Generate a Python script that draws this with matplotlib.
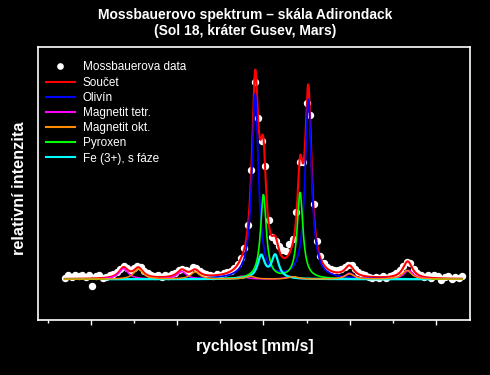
import numpy as np
import matplotlib
matplotlib.use('Agg')
import matplotlib.pyplot as plt
from matplotlib.ticker import MultipleLocator
from matplotlib.lines import Line2D

plt.rcParams['font.family'] = ['Liberation Sans', 'DejaVu Sans']

# -------------------------------------------------------------------
# Data: measured spectrum (velocity channels, 0.2 mm/s step)
# -------------------------------------------------------------------
velocity = np.round(np.arange(-11.5, 11.5001, 0.2), 2)
intensity = [
    0.004, 0.018, 0.012, 0.022, 0.015, 0.020, 0.010, 0.018, -0.034, 0.016,
    0.022, 0.006, 0.012, 0.020, 0.024, 0.034, 0.050, 0.062, 0.054, 0.046,
    0.052, 0.064, 0.056, 0.040, 0.028, 0.022, 0.016, 0.020, 0.012, 0.018,
    0.014, 0.024, 0.030, 0.042, 0.050, 0.046, 0.040, 0.060, 0.052, 0.040,
    0.030, 0.024, 0.020, 0.014, 0.024, 0.020, 0.030, 0.034, 0.040, 0.055,
    0.072, 0.100, 0.150, 0.260, 0.520, 0.940, 0.770, 0.660, 0.540, 0.280,
    0.200, 0.180, 0.160, 0.140, 0.135, 0.170, 0.190, 0.320, 0.560, 0.560,
    0.840, 0.780, 0.360, 0.180, 0.110, 0.075, 0.060, 0.050, 0.042, 0.045,
    0.048, 0.058, 0.070, 0.066, 0.048, 0.034, 0.024, 0.018, 0.010, 0.004,
    0.012, 0.006, 0.014, 0.008, 0.016, 0.022, 0.030, 0.042, 0.064, 0.084,
    0.078, 0.050, 0.030, 0.020, 0.012, 0.018, 0.008, 0.020, 0.014, -0.004,
    0.010, 0.016, 0.000, 0.012, 0.006, 0.014,
]

# Fitted Lorentzian lines (position mm/s, amplitude, half width)
olivine_pos = [-0.48, 2.60]
olivine_amp = [0.878, 0.853]
olivine_hw = 0.225

pyroxene_pos = [0.00, 2.12]
pyroxene_amp = [0.40, 0.41]
pyroxene_hw = 0.20

fe3_pos = [-0.13, 0.68]
fe3_amp = [0.108, 0.110]
fe3_hw = 0.25
fe3_range = (-9.1, 9.65)   # the Fe3+ curve is only drawn over this span

mag_tetr_pos = [-8.10, -4.73, -1.25, 1.55, 4.98, 8.40]
mag_tetr_amp = [0.050, 0.036, 0.014, 0.012, 0.028, 0.042]
mag_okt_pos = [-7.24, -3.95, -0.77, 1.74, 4.98, 8.30]
mag_okt_amp = [0.048, 0.034, 0.014, 0.012, 0.025, 0.042]
mag_hw = 0.32


def lorentz_sum(x, positions, amplitudes, hw):
    y = np.zeros_like(x)
    for p, a in zip(positions, amplitudes):
        y += a / (1 + ((x - p) / hw) ** 2)
    return y


v = np.linspace(-11.5, 11.5, 1200)
olivine = lorentz_sum(v, olivine_pos, olivine_amp, olivine_hw)
pyroxene = lorentz_sum(v, pyroxene_pos, pyroxene_amp, pyroxene_hw)
fe3 = lorentz_sum(v, fe3_pos, fe3_amp, fe3_hw)
mag_tetr = lorentz_sum(v, mag_tetr_pos, mag_tetr_amp, mag_hw)
mag_okt = lorentz_sum(v, mag_okt_pos, mag_okt_amp, mag_hw)
total = olivine + pyroxene + fe3 + mag_tetr + mag_okt
fe3_mask = (v >= fe3_range[0]) & (v <= fe3_range[1])

# -------------------------------------------------------------------
# Figure
# -------------------------------------------------------------------
fig = plt.figure(figsize=(4.9, 3.75), dpi=100, facecolor='black')
ax = fig.add_axes([0.0776, 0.1467, 0.882, 0.728], facecolor='black')

ax.plot(velocity, intensity, 'o', color='white', markersize=4.3, zorder=2)
ax.plot(v, total, color='#ff0000', lw=1.5, zorder=3)
ax.plot(v, olivine, color='#0000ff', lw=1.3, zorder=4)
ax.plot(v, mag_tetr, color='#ff00ff', lw=1.1, zorder=5)
ax.plot(v, pyroxene, color='#00ff00', lw=1.2, zorder=6)
ax.plot(v[fe3_mask], fe3[fe3_mask], color='#00ffff', lw=1.6, zorder=7)
ax.plot(v, mag_okt, color='#ff8c00', lw=1.0, zorder=8)

ax.set_xlim(-13.05, 11.97)
ax.set_ylim(-0.194, 1.106)
ax.xaxis.set_major_locator(MultipleLocator(5))
ax.xaxis.set_minor_locator(MultipleLocator(2.5))
ax.tick_params(axis='x', which='major', direction='out', length=3.6, width=1,
               colors='white', labelbottom=False)
ax.tick_params(axis='x', which='minor', direction='out', length=1.8, width=1,
               colors='white')
ax.tick_params(axis='y', which='both', left=False, labelleft=False)
for s in ax.spines.values():
    s.set_color('white')
    s.set_linewidth(1.2)

handles = [
    Line2D([], [], ls='none', marker='o', color='white', markersize=3.8),
    Line2D([], [], color='#ff0000', lw=1.5),
    Line2D([], [], color='#0000ff', lw=1.5),
    Line2D([], [], color='#ff00ff', lw=1.5),
    Line2D([], [], color='#ff8c00', lw=1.5),
    Line2D([], [], color='#00ff00', lw=1.5),
    Line2D([], [], color='#00ffff', lw=1.5),
]
labels = ['Mossbauerova data', 'Součet', 'Olivín', 'Magnetit tetr.',
          'Magnetit okt.', 'Pyroxen', 'Fe (3+), s fáze']
leg = ax.legend(handles, labels, loc='upper left', bbox_to_anchor=(0.0185, 0.947),
                frameon=False, fontsize=8.5, handlelength=2.45, handletextpad=0.68,
                labelspacing=0.27, borderpad=0, borderaxespad=0, numpoints=1)
for t in leg.get_texts():
    t.set_color('white')

fig.text(0.5, 1 - 15.5 / 375, 'Mossbauerovo spektrum – skála Adirondack',
         ha='center', va='center', color='white', fontsize=10, fontweight='bold')
fig.text(0.5, 1 - 30.5 / 375, '(Sol 18, kráter Gusev, Mars)',
         ha='center', va='center', color='white', fontsize=10, fontweight='bold')
fig.text(255 / 490, 1 - 346 / 375, 'rychlost [mm/s]', ha='center', va='center',
         color='white', fontsize=11.3, fontweight='bold')
fig.text(20 / 490, 1 - 188 / 375, 'relativní intenzita', ha='center', va='center',
         rotation=90, color='white', fontsize=11.8, fontweight='bold')

fig.savefig('out.png', dpi=100, facecolor='black')
